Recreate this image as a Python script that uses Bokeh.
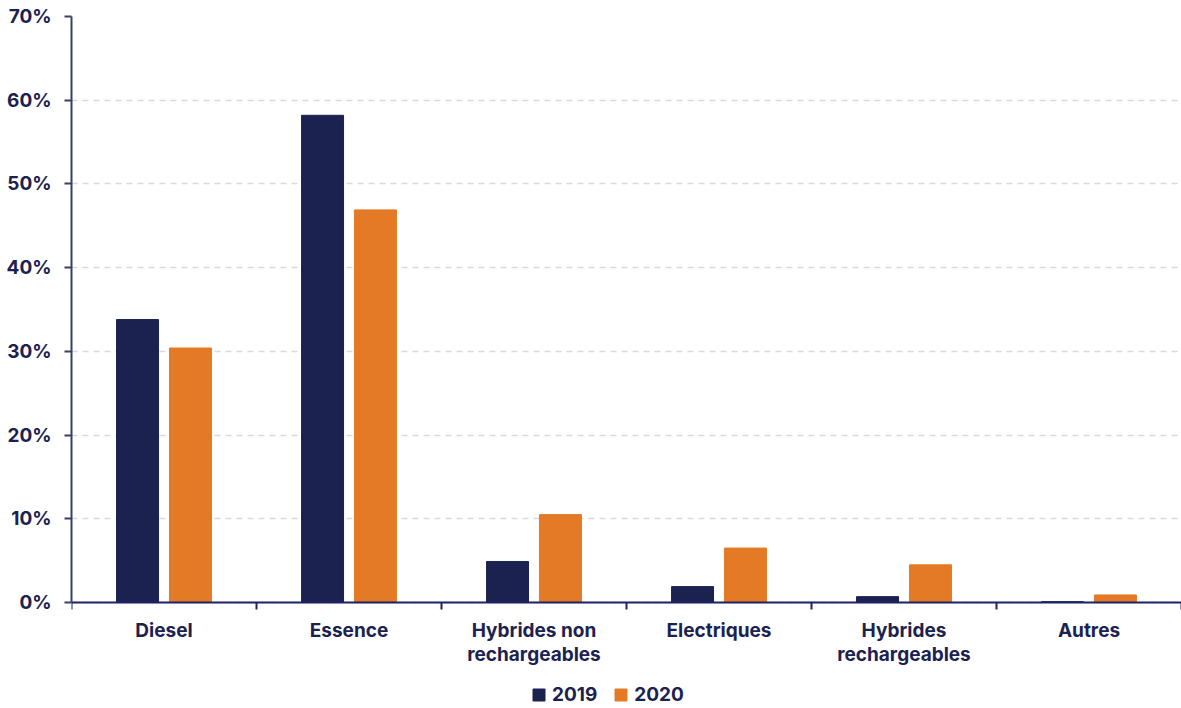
from bokeh.plotting import figure
from bokeh.models import ColumnDataSource, FixedTicker, Legend, LegendItem, Range1d, CustomJSTickFormatter, LinearAxis
from bokeh.embed import file_html
from bokeh.resources import INLINE

categories = ["Diesel", "Essence", "Hybrides non\nrechargeables", "Electriques", "Hybrides\nrechargeables", "Autres"]
values_2019 = [33.8, 58.2, 4.9, 1.9, 0.7, 0.1]
values_2020 = [30.4, 46.9, 10.5, 6.5, 4.5, 0.9]
series_names = ["2019", "2020"]
y_ticks = [0, 10, 20, 30, 40, 50, 60, 70]

NAVY = "#1b2250"
ORANGE = "#e47a25"
FONT = "Inter"
FS = "19px"

n = len(categories)
centers = [i + 0.5 for i in range(n)]
bounds = [float(i) for i in range(n + 1)]

src = ColumnDataSource(dict(
    x19=[c - 0.143 for c in centers],
    x20=[c + 0.143 for c in centers],
    v19=values_2019,
    v20=values_2020,
))

# frame: top at 16px, 0% at 602px, bottom of page at 708px
y_top = 70.0
px_per_unit = (602 - 16) / y_top
y_bottom = -(708 - 602) / px_per_unit

p = figure(width=1181, height=708, output_backend="svg", toolbar_location=None,
           x_range=Range1d(0, n), y_range=Range1d(y_bottom, y_top),
           x_axis_location=None)
p.min_border_left = 71
p.min_border_right = 0
p.min_border_top = 16
p.min_border_bottom = 0
p.outline_line_color = None
p.background_fill_color = "white"
p.border_fill_color = "white"

r19 = p.vbar(x="x19", top="v19", width=0.227, source=src, color=NAVY)
r20 = p.vbar(x="x20", top="v20", width=0.227, source=src, color=ORANGE)

# grid
p.xgrid.visible = False
p.ygrid.ticker = FixedTicker(ticks=y_ticks)
p.ygrid.grid_line_color = "#d9d9d9"
p.ygrid.grid_line_dash = "6 5"
p.ygrid.grid_line_width = 1.5

# y axis
ya = p.yaxis[0]
ya.ticker = FixedTicker(ticks=y_ticks)
ya.bounds = (0, 70)
ya.formatter = CustomJSTickFormatter(code="return tick.toFixed(0) + '%';")
ya.axis_line_color = "#3a3f66"
ya.axis_line_width = 2
ya.major_tick_line_color = "#3a3f66"
ya.major_tick_line_width = 2
ya.major_tick_out = 7
ya.major_tick_in = 0
ya.minor_tick_line_color = None
ya.major_label_text_font = FONT
ya.major_label_text_font_style = "bold"
ya.major_label_text_font_size = FS
ya.major_label_text_color = NAVY
ya.major_label_standoff = 13

# x axis drawn at y = 0
xa = LinearAxis(fixed_location=0)
xa.ticker = FixedTicker(ticks=centers, minor_ticks=bounds)
xa.major_label_overrides = {c: categories[i] for i, c in enumerate(centers)}
xa.axis_line_color = "#1e2266"
xa.axis_line_width = 2
xa.major_tick_line_color = None
xa.minor_tick_line_color = "#1e2266"
xa.minor_tick_line_width = 2
xa.minor_tick_out = 7
xa.minor_tick_in = 0
xa.major_label_text_font = FONT
xa.major_label_text_font_style = "bold"
xa.major_label_text_font_size = FS
xa.major_label_text_color = NAVY
xa.major_label_text_line_height = 1.05
xa.major_label_standoff = 9
p.add_layout(xa, "below")

legend = Legend(items=[LegendItem(label=series_names[0], renderers=[r19]),
                       LegendItem(label=series_names[1], renderers=[r20])],
                orientation="horizontal", location=(460, 2),
                label_text_font=FONT, label_text_font_style="bold",
                label_text_font_size=FS, label_text_color=NAVY,
                glyph_width=15, glyph_height=15, spacing=16, label_standoff=6,
                border_line_color=None, background_fill_alpha=0,
                margin=0, padding=0)
p.add_layout(legend, "center")

open("out.html", "w").write(file_html(p, INLINE))
